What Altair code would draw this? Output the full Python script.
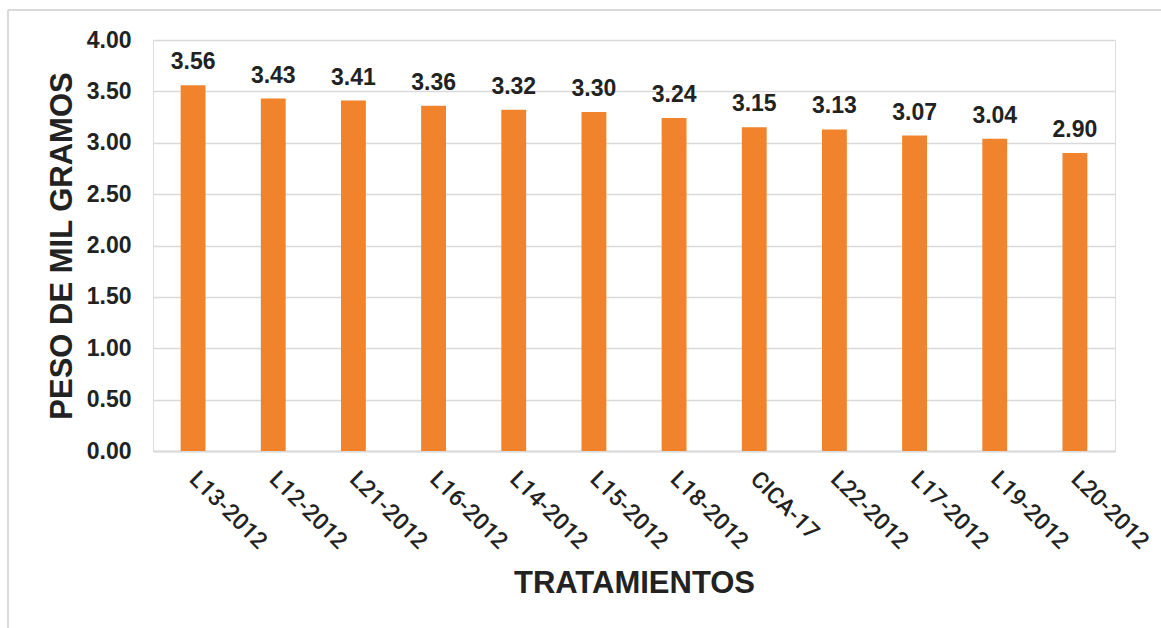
import altair as alt
import pandas as pd

# Thousand-grain weight per treatment
tratamientos = ["L13-2012", "L12-2012", "L21-2012", "L16-2012", "L14-2012", "L15-2012",
                "L18-2012", "CICA-17", "L22-2012", "L17-2012", "L19-2012", "L20-2012"]
peso = [3.56, 3.43, 3.41, 3.36, 3.32, 3.30, 3.24, 3.15, 3.13, 3.07, 3.04, 2.90]

df = pd.DataFrame({"tratamiento": tratamientos, "peso": peso})
df["etiqueta"] = [f"{v:.2f}" for v in peso]

FONT = "Liberation Sans"
INK = "#222222"
W, H = 962, 411
PAD_L, PAD_T = 153, 40

x = alt.X(
    "tratamiento:N", sort=tratamientos,
    scale=alt.Scale(paddingInner=0.69, paddingOuter=0.345),
    axis=alt.Axis(
        title="TRATAMIENTOS", labelAngle=45, labelAlign="left", labelBaseline="middle",
        labelFontSize=23, labelFont="Roboto", labelFontWeight=500, labelColor=INK,
        labelPadding=24, ticks=False, domainColor="#d9d9d9", domainWidth=2,
        titleFontSize=31, titleFont=FONT, titleFontWeight="bold", titleColor=INK,
        titleX=W / 2, titleY=132, titleBaseline="middle", titleAlign="center",
    ),
)
y = alt.Y(
    "peso:Q", scale=alt.Scale(domain=[0, 4]),
    axis=alt.Axis(
        title="PESO DE MIL GRAMOS", values=[0, 0.5, 1, 1.5, 2, 2.5, 3, 3.5, 4], format=".2f",
        labelFontSize=23, labelFont=FONT, labelFontWeight="bold", labelColor=INK,
        labelPadding=22, ticks=False, domain=False, gridColor="#d9d9d9", gridWidth=1.5,
        titleFontSize=31, titleFont=FONT, titleFontWeight="bold", titleColor=INK,
        titleX=-91, titleY=H / 2, titleAngle=-90, titleBaseline="middle", titleAlign="center",
    ),
)

bars = alt.Chart(df).mark_bar(color="#F0832B").encode(x=x, y=y)

labels = alt.Chart(df).mark_text(
    font=FONT, fontWeight="bold", fontSize=23, color=INK,
    baseline="alphabetic", dy=-16,
).encode(x=alt.X("tratamiento:N", sort=tratamientos), y="peso:Q", text="etiqueta:N")

# light outer frame
frame_top = alt.Chart(df).mark_rule(color="#d9d9d9", strokeWidth=1.5).encode(
    x=alt.value(8 - PAD_L), x2=alt.value(1161 - PAD_L), y=alt.value(10 - PAD_T)
)
frame_left = alt.Chart(df).mark_rule(color="#d9d9d9", strokeWidth=1.5).encode(
    x=alt.value(8 - PAD_L), y=alt.value(10 - PAD_T), y2=alt.value(628 - PAD_T)
)

chart = alt.layer(bars, labels, frame_top, frame_left).properties(
    width=W, height=H,
    autosize=alt.AutoSizeParams(type="none"),
    padding={"left": PAD_L, "top": PAD_T, "right": 1161 - PAD_L - W, "bottom": 628 - PAD_T - H},
).configure_view(stroke=None).configure(background="white")

chart.save("out.html", embed_options={"renderer": "svg", "actions": False})
